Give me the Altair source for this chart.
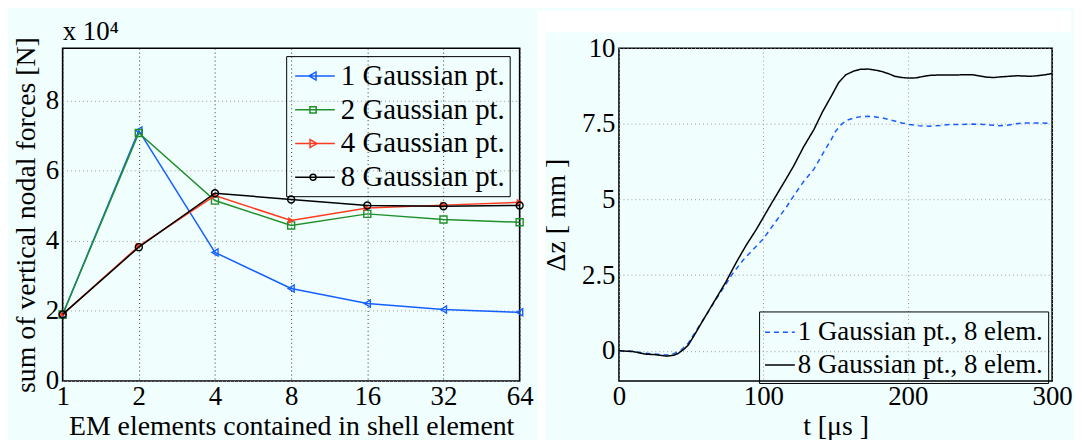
import altair as alt
import pandas as pd

# ---------------- Left panel data ----------------
em_elements = [1, 2, 4, 8, 16, 32, 64]
series_names = ["1 Gaussian pt.", "2 Gaussian pt.", "4 Gaussian pt.", "8 Gaussian pt."]
force_1gp = [19000, 71500, 36700, 26400, 22100, 20400, 19600]
force_2gp = [19000, 70800, 51500, 44400, 47700, 46100, 45300]
force_4gp = [19000, 38500, 52900, 45800, 49400, 50200, 51000]
force_8gp = [19000, 38200, 53600, 51800, 50100, 49900, 50100]
left_y_ticks = [0, 20000, 40000, 60000, 80000]

# ---------------- Right panel data ----------------
right_names = ["1 Gaussian pt., 8 elem.", "8 Gaussian pt., 8 elem."]
t_1gp = [0, 10, 18, 25, 33, 38, 43, 48, 53, 58, 64.6, 72, 78.6, 86, 93, 100,
         106, 111.5, 116, 121, 128, 135, 141, 147, 150, 154, 158, 163, 168, 172.5,
         177, 182, 187, 191, 196, 201, 207, 215, 222, 229, 237, 245, 252, 257,
         263, 269, 275, 280.5, 290, 300]
dz_1gp = [0, -0.02, -0.08, -0.11, -0.14, -0.1, 0.02, 0.25, 0.63, 1.0, 1.5, 2.05, 2.54, 3.0, 3.35, 3.7,
          4.1, 4.46, 4.75, 5.12, 5.6, 6.0, 6.5, 6.98, 7.25, 7.48, 7.62, 7.7, 7.74, 7.75,
          7.73, 7.7, 7.64, 7.59, 7.53, 7.48, 7.44, 7.42, 7.44, 7.48, 7.48, 7.49, 7.48, 7.46,
          7.44, 7.45, 7.5, 7.53, 7.53, 7.51]
t_8gp = [0, 10, 18, 25, 33, 38, 41, 45, 48, 52, 57.5, 65, 74, 81, 88, 95, 100, 106,
         111.5, 116, 121, 128, 135, 141, 147, 152, 157, 163, 167, 172.5, 177, 182,
         187, 191, 196, 201, 206, 210, 215, 220, 229, 238, 245, 250, 255, 260, 264,
         270, 276, 280, 285, 290, 295, 300]
dz_8gp = [0, -0.03, -0.11, -0.13, -0.18, -0.15, -0.09, 0.05, 0.19, 0.5, 0.95, 1.55, 2.27, 2.9, 3.48, 4.0, 4.41, 4.9,
          5.34, 5.7, 6.11, 6.75, 7.31, 7.9, 8.41, 8.85, 9.12, 9.25, 9.3, 9.31, 9.28, 9.23,
          9.15, 9.07, 9.03, 9.01, 9.02, 9.06, 9.1, 9.11, 9.11, 9.12, 9.12, 9.08, 9.04, 9.03, 9.05,
          9.07, 9.09, 9.08, 9.07, 9.09, 9.12, 9.16]
right_x_ticks = [0, 100, 200, 300]
right_y_ticks = [0, 2.5, 5, 7.5, 10]

# ---------------- Styles ----------------
SERIF = "Liberation Serif"
BG = "#f0fefe"
left_colors = ["#1560ff", "#22902a", "#ff3b1f", "#000000"]
left_shapes = ["triangle-left", "square", "triangle-right", "circle"]
left_filled = [False, False, True, False]
legend_paths = [
    "M-0.73,0H1.93M0.2,0L0.67,-0.27L0.67,0.27Z",
    "M-0.73,0H1.93M0.26,-0.21H0.68V0.21H0.26Z",
    "M-0.73,0H1.93M0.74,0L0.27,-0.27L0.27,0.27Z",
    "M-0.73,0H1.93M0.67,0A0.2,0.2,0,1,1,0.27,0A0.2,0.2,0,1,1,0.67,0Z",
]
right_colors = ["#1a5cff", "#000000"]
right_dashes = [[5, 4], [1, 0]]

# ---------------- Left chart ----------------
rows = []
for name, vals in zip(series_names, [force_1gp, force_2gp, force_4gp, force_8gp]):
    for x, v in zip(em_elements, vals):
        rows.append({"series": name, "em": x, "force": v})
left_df = pd.DataFrame(rows)

x_left = alt.X(
    "em:Q",
    scale=alt.Scale(type="log", base=2, domain=[1, 64], nice=False),
    axis=alt.Axis(values=em_elements, format="d", title="EM elements contained in shell element",
                  labelFlush=False, gridColor="#333333", gridDash=[1, 3], labelPadding=3,
                  titlePadding=3, titleFontSize=28),
)
y_left = alt.Y(
    "force:Q",
    scale=alt.Scale(domain=[0, 95000], nice=False, zero=False),
    axis=alt.Axis(values=left_y_ticks, labelExpr="format(datum.value / 10000, 'd')",
                  title="sum of vertical nodal forces [N]", labelFlush=False,
                  gridColor="#999999", gridDash=[1, 3], labelPadding=4, titlePadding=5,
                  titleFontSize=28),
)

left_legend = alt.Legend(orient="none", legendX=225, legendY=8, title=None,
                         strokeColor="black", padding=4, rowPadding=3,
                         labelFont=SERIF, labelFontSize=29, labelColor="black", labelLimit=400,
                         symbolSize=900, symbolStrokeWidth=1.5, labelOffset=19)

left_layers = []
for name, col, shp, fil in zip(series_names, left_colors, left_shapes, left_filled):
    sub = alt.Chart(left_df).transform_filter(alt.datum.series == name)
    left_layers.append(sub.mark_line(color=col, strokeWidth=1.5).encode(x=x_left, y=y_left))
    left_layers.append(
        sub.mark_point(shape=shp, color=col, filled=fil, size=50, strokeWidth=1.4, opacity=1)
        .encode(x=x_left, y=y_left)
    )
# legend-only layer (zero-size symbols in the plot; the legend gets its own symbol size)
left_legend_layer = alt.Chart(left_df).mark_point(
    filled=False, strokeWidth=1.5, size=0, opacity=1
).encode(
    x=x_left, y=y_left,
    color=alt.Color("series:N", scale=alt.Scale(domain=series_names, range=left_colors), legend=left_legend),
    shape=alt.Shape("series:N", scale=alt.Scale(domain=series_names, range=legend_paths), legend=left_legend),
)
left_layers.append(left_legend_layer)

left_chart = alt.layer(*left_layers).properties(
    width=460, height=335,
    title=alt.TitleParams("x 10\u2074", anchor="start", frame="group", font=SERIF,
                          fontSize=27, fontWeight="normal", offset=-9, color="black"),
)

# ---------------- Right chart ----------------
rrows = []
for name, ts, vs in zip(right_names, [t_1gp, t_8gp], [dz_1gp, dz_8gp]):
    for t, v in zip(ts, vs):
        rrows.append({"series": name, "t": t, "dz": v})
right_df = pd.DataFrame(rrows)

right_legend = alt.Legend(orient="none", legendX=141, legendY=265, title=None,
                          strokeColor="black", padding=5, rowPadding=4,
                          labelFont=SERIF, labelFontSize=27, labelColor="black", labelLimit=400,
                          symbolSize=900, symbolStrokeWidth=1.5, labelOffset=2)

right_lines = alt.Chart(right_df).mark_line(strokeWidth=1.5).encode(
    x=alt.X("t:Q", scale=alt.Scale(domain=[0, 300], nice=False),
            axis=alt.Axis(values=right_x_ticks, title="t [\u03bcs ]", labelFlush=False,
                          gridColor="#999999", gridDash=[1, 3], labelPadding=3,
                          titlePadding=3, titleFontSize=28)),
    y=alt.Y("dz:Q", scale=alt.Scale(domain=[-1, 10], nice=False, zero=False),
            axis=alt.Axis(values=right_y_ticks, labelExpr="'' + datum.value", title="\u0394z [ mm ]",
                          labelFlush=False, gridColor="#999999", gridDash=[1, 3],
                          labelPadding=4, titlePadding=11, titleFontSize=28)),
    color=alt.Color("series:N", scale=alt.Scale(domain=right_names, range=right_colors), legend=right_legend),
    strokeDash=alt.StrokeDash("series:N", scale=alt.Scale(domain=right_names, range=right_dashes), legend=right_legend),
)

blank = pd.DataFrame({"k": [0]})
gap_rect = alt.Chart(blank).mark_rect(color="white").encode(
    x=alt.value(-82), x2=alt.value(-74), y=alt.value(-38), y2=alt.value(398)
)
top_rect = alt.Chart(blank).mark_rect(color="white").encode(
    x=alt.value(-74), x2=alt.value(455), y=alt.value(-38), y2=alt.value(-16)
)

right_chart = alt.layer(gap_rect, top_rect, right_lines).properties(width=436, height=335)

chart = alt.hconcat(left_chart, right_chart, spacing=100, bounds="flush").resolve_scale(
    color="independent", strokeDash="independent", shape="independent"
).resolve_legend(
    color="independent", strokeDash="independent", shape="independent"
).properties(
    background=BG,
    padding={"left": 3, "top": 0, "right": 0, "bottom": 0},
).configure_axis(
    labelFont=SERIF, titleFont=SERIF, labelFontSize=27, labelColor="black",
    titleColor="black", titleFontWeight="normal", ticks=False, domain=False, grid=True,
).configure_view(
    stroke="black", strokeWidth=1.6, fill=None
)

chart.save("out.html", embed_options={"renderer": "svg", "actions": False})
